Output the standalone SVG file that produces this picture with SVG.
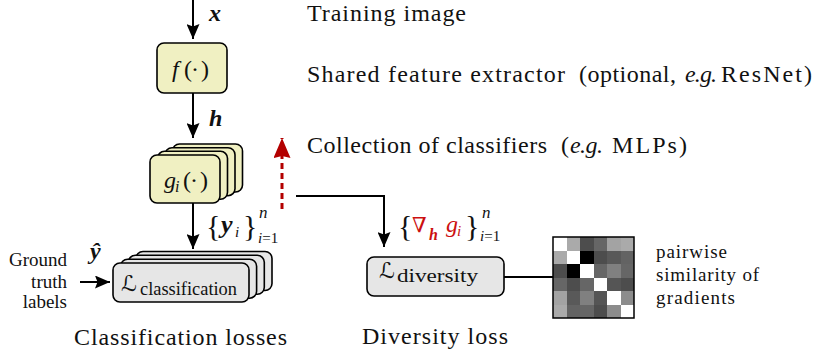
<svg xmlns="http://www.w3.org/2000/svg" width="830" height="351" viewBox="0 0 830 351">
<style>
  text { fill: #111; font-family: "Liberation Serif", "Times New Roman", serif; }
  .main { font-size: 24px; }
  .small { font-size: 19px; }
  .it { font-style: italic; }
  .bi { font-style: italic; font-weight: bold; }
  .sym { font-family: "DejaVu Serif", "DejaVu Sans", serif; }
  .ybox { fill: #f0f0c2; stroke: #000; stroke-width: 1.6; }
  .gbox { fill: #e6e6e6; stroke: #000; stroke-width: 1.6; }
  .conn { fill: none; stroke: #000; stroke-width: 2; }
  .red { fill: #cc1010; }
</style>
<defs>
  <marker id="ah" viewBox="0 0 15 13" refX="15" refY="6.5" markerWidth="15" markerHeight="13" markerUnits="userSpaceOnUse" orient="auto">
    <path d="M0,0 L15,6.5 L0,13 L2.5,6.5 z" fill="#000"/>
  </marker>
  <marker id="ahr" viewBox="0 0 20 17" refX="20" refY="8.5" markerWidth="20" markerHeight="17" markerUnits="userSpaceOnUse" orient="auto">
    <path d="M0,0 L20,8.5 L0,17 L2,8.5 z" fill="#b30000"/>
  </marker>
</defs>

<g id="connectors">
  <line class="conn" x1="193" y1="0" x2="193" y2="39" marker-end="url(#ah)"/>
  <line class="conn" x1="193" y1="93" x2="193" y2="138" marker-end="url(#ah)"/>
  <line class="conn" x1="193" y1="203" x2="193" y2="249" marker-end="url(#ah)"/>
  <line class="conn" x1="80" y1="282" x2="110" y2="282" marker-end="url(#ah)"/>
  <polyline class="conn" points="296,196 384,196 384,247" marker-end="url(#ah)"/>
  <line x1="282" y1="209" x2="282" y2="138" stroke="#b30000" stroke-width="3" stroke-dasharray="6 4" marker-end="url(#ahr)"/>
  <line class="conn" x1="504" y1="277" x2="553" y2="277"/>
</g>

<g id="f-node">
  <rect class="ybox" x="157" y="43" width="70" height="50" rx="7"/>
  <text class="main" y="77"><tspan class="it" x="172">f</tspan><tspan x="184">(</tspan><tspan x="191">·</tspan><tspan x="201">)</tspan></text>
</g>

<g id="g-node">
  <rect class="ybox" x="172.5" y="144" width="70" height="48" rx="7"/>
  <rect class="ybox" x="165" y="147.7" width="70" height="48" rx="7"/>
  <rect class="ybox" x="157.5" y="151.3" width="70" height="48" rx="7"/>
  <rect class="ybox" x="150" y="155" width="70" height="48" rx="7"/>
  <text class="main" y="188"><tspan class="it" x="164">g</tspan><tspan class="it" x="175" y="192" font-size="16">i</tspan><tspan x="183" y="188">(</tspan><tspan x="190">·</tspan><tspan x="200">)</tspan></text>
</g>

<g id="lclass-node">
  <rect class="gbox" x="136" y="251.5" width="136" height="39" rx="7"/>
  <rect class="gbox" x="128.3" y="255.3" width="136" height="39" rx="7"/>
  <rect class="gbox" x="120.6" y="259.2" width="136" height="39" rx="7"/>
  <rect class="gbox" x="113" y="263" width="136" height="39" rx="7"/>
  <text class="sym" x="121" y="291" font-size="22">ℒ</text>
  <text x="140" y="295" font-size="18" textLength="97" lengthAdjust="spacingAndGlyphs">classification</text>
</g>

<g id="ldiv-node">
  <rect class="gbox" x="367" y="257" width="137" height="39" rx="7"/>
  <text class="sym" x="379" y="278" font-size="22">ℒ</text>
  <text x="397" y="282" font-size="18" textLength="81" lengthAdjust="spacingAndGlyphs">diversity</text>
</g>

<g id="matrix">
  <g shape-rendering="crispEdges">
    <rect x="553" y="237" width="13.5" height="13.5" fill="#fff"/>
    <rect x="566.5" y="237" width="13.5" height="13.5" fill="#aaa"/>
    <rect x="580" y="237" width="13.5" height="13.5" fill="#4d4d4d"/>
    <rect x="593.5" y="237" width="13.5" height="13.5" fill="#666"/>
    <rect x="607" y="237" width="13.5" height="13.5" fill="#a3a3a3"/>
    <rect x="620.5" y="237" width="13.5" height="13.5" fill="#aaa"/>
    <rect x="553" y="250.5" width="13.5" height="13.5" fill="#aaa"/>
    <rect x="566.5" y="250.5" width="13.5" height="13.5" fill="#fff"/>
    <rect x="580" y="250.5" width="13.5" height="13.5" fill="#000"/>
    <rect x="593.5" y="250.5" width="13.5" height="13.5" fill="#4d4d4d"/>
    <rect x="607" y="250.5" width="13.5" height="13.5" fill="#595959"/>
    <rect x="620.5" y="250.5" width="13.5" height="13.5" fill="#636363"/>
    <rect x="553" y="264" width="13.5" height="13.5" fill="#4d4d4d"/>
    <rect x="566.5" y="264" width="13.5" height="13.5" fill="#000"/>
    <rect x="580" y="264" width="13.5" height="13.5" fill="#fff"/>
    <rect x="593.5" y="264" width="13.5" height="13.5" fill="#666"/>
    <rect x="607" y="264" width="13.5" height="13.5" fill="#808080"/>
    <rect x="620.5" y="264" width="13.5" height="13.5" fill="#666"/>
    <rect x="553" y="277.5" width="13.5" height="13.5" fill="#666"/>
    <rect x="566.5" y="277.5" width="13.5" height="13.5" fill="#4d4d4d"/>
    <rect x="580" y="277.5" width="13.5" height="13.5" fill="#666"/>
    <rect x="593.5" y="277.5" width="13.5" height="13.5" fill="#fff"/>
    <rect x="607" y="277.5" width="13.5" height="13.5" fill="#555"/>
    <rect x="620.5" y="277.5" width="13.5" height="13.5" fill="#4d4d4d"/>
    <rect x="553" y="291" width="13.5" height="13.5" fill="#a3a3a3"/>
    <rect x="566.5" y="291" width="13.5" height="13.5" fill="#595959"/>
    <rect x="580" y="291" width="13.5" height="13.5" fill="#808080"/>
    <rect x="593.5" y="291" width="13.5" height="13.5" fill="#555"/>
    <rect x="607" y="291" width="13.5" height="13.5" fill="#fff"/>
    <rect x="620.5" y="291" width="13.5" height="13.5" fill="#8c8c8c"/>
    <rect x="553" y="304.5" width="13.5" height="13.5" fill="#aaa"/>
    <rect x="566.5" y="304.5" width="13.5" height="13.5" fill="#636363"/>
    <rect x="580" y="304.5" width="13.5" height="13.5" fill="#666"/>
    <rect x="593.5" y="304.5" width="13.5" height="13.5" fill="#4d4d4d"/>
    <rect x="607" y="304.5" width="13.5" height="13.5" fill="#8c8c8c"/>
    <rect x="620.5" y="304.5" width="13.5" height="13.5" fill="#fff"/>
  </g>
  <rect x="553" y="237" width="81" height="81" fill="none" stroke="#000" stroke-width="1.5"/>
</g>

<g id="labels-math">
  <text class="main bi" x="209" y="21">x</text>
  <text class="main bi" x="209" y="126">h</text>
  <text class="main bi" x="90" y="259">ŷ</text>
  <text x="206" y="236" font-size="30">{</text>
  <text class="bi" x="221" y="233" font-size="26">y</text>
  <text class="it" x="235" y="237" font-size="15">i</text>
  <text x="243" y="236" font-size="30">}</text>
  <text class="it" x="259" y="218" font-size="17">n</text>
  <text x="258" y="243" font-size="15"><tspan class="it">i</tspan>=1</text>
  <text x="398" y="236" font-size="30">{</text>
  <text class="sym red" x="412" y="232" font-size="21">∇</text>
  <text class="bi red" x="429" y="240" font-size="16">h</text>
  <text class="it red" x="446" y="232" font-size="24">g</text>
  <text class="it red" x="457" y="236" font-size="15">i</text>
  <text x="465" y="236" font-size="30">}</text>
  <text class="it" x="482" y="218" font-size="17">n</text>
  <text x="480" y="241" font-size="15"><tspan class="it">i</tspan>=1</text>
</g>

<g id="labels-text">
  <text class="main" x="307" y="21" textLength="159">Training image</text>
  <text class="main" x="307" y="82" textLength="258">Shared feature extractor</text>
  <text class="main" x="579" y="82" textLength="97">(optional,</text>
  <text class="main it" x="685" y="82" textLength="32">e.g.</text>
  <text class="main" x="721" y="82" textLength="91">ResNet)</text>
  <text class="main" x="307" y="153" textLength="240">Collection of classifiers</text>
  <text class="main" x="561" y="153">(</text>
  <text class="main it" x="570" y="153" textLength="33">e.g.</text>
  <text class="main" x="612" y="153" textLength="75">MLPs)</text>
  <text class="small" x="67" y="266" text-anchor="end">Ground</text>
  <text class="small" x="67" y="288" text-anchor="end">truth</text>
  <text class="small" x="67" y="308" text-anchor="end">labels</text>
  <text class="small" x="656" y="258" textLength="71">pairwise</text>
  <text class="small" x="656" y="281" textLength="103">similarity of</text>
  <text class="small" x="656" y="304" textLength="79">gradients</text>
  <text class="main" x="74" y="345" textLength="213">Classification losses</text>
  <text class="main" x="362" y="344" textLength="146">Diversity loss</text>
</g>
</svg>
